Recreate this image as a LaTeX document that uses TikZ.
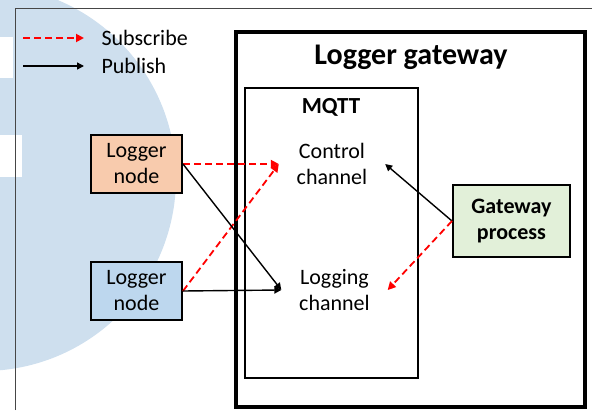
\documentclass[tikz,border=0pt]{standalone}
\usepackage{fontspec}
\setmainfont{Carlito}
\usepackage{xcolor}
\usetikzlibrary{shapes, arrows.meta, positioning}
\definecolor{nodeorange}{RGB}{248,203,173}
\definecolor{nodeblue}{RGB}{189,215,238}
\definecolor{nodegreen}{RGB}{226,240,217}
\definecolor{markblue}{RGB}{206,223,238}
\definecolor{framegray}{RGB}{70,70,70}

\begin{document}
\begin{tikzpicture}[
                x=1pt, y=-1pt,
                font=\fontsize{22}{26}\selectfont,
                box/.style={rectangle, draw=black, line width=2pt, minimum width=91pt, minimum height=58pt, align=center, inner sep=0pt},
                chan/.style={rectangle, align=center, minimum width=106pt, inner sep=0pt},
                pub/.style={-{Triangle[length=7pt,width=7pt]}, line width=1.4pt},
                sub/.style={-{Triangle[length=8pt,width=8pt]}, red, line width=1.8pt, dash pattern=on 7pt off 4pt}
            ]
                \useasboundingbox (0,0) rectangle (592,410);
                \begin{scope}
                    \clip (0,0) rectangle (592,410);
                    \fill[markblue] (-17,178) circle[radius=193pt];
                \end{scope}
                \fill[white] (0,37) rectangle (13,78);
                \fill[white] (0,135) rectangle (22,177);
                \draw[framegray, line width=1pt] (15,410) -- (15,8) -- (592,8);

                \draw[line width=4pt] (236,32) rectangle (585,407);
                \draw[line width=1.5pt] (245,88) rectangle (418,378);
                \node[font=\fontsize{30}{34}\selectfont\bfseries] (title) at (411,57) {Logger gateway};
                \node[font=\fontsize{23}{26}\selectfont\bfseries] (mqtt) at (331,107) {MQTT};

                \node[box, fill=nodeorange] (n1) at (136.5,164) {Logger\\node};
                \node[box, fill=nodeblue, below=67pt of n1] (n2) {Logger\\node};
                \node[box, fill=nodegreen, minimum width=117pt, minimum height=72pt, font=\fontsize{22}{26}\selectfont\bfseries] (gp) at (511.5,221) {Gateway\\process};
                \node[chan] (ctrl) at (332,164) {Control\\channel};
                \node[chan] (logch) at (334.5,290) {Logging\\channel};

                \draw[sub] (n1.east) -- (ctrl.west);
                \draw[sub] (n2.east) -- (ctrl.west);
                \draw[pub] (n1.east) -- (logch.west);
                \draw[pub] (n2.east) -- (logch.west);
                \draw[pub] (gp.west) -- (ctrl.east);
                \draw[sub] (gp.west) -- (logch.east);

                \coordinate (s0) at (23,38);
                \coordinate (s1) at (84,38);
                \coordinate (p0) at (23,66);
                \coordinate (p1) at (84,66);
                \node[anchor=west, right=14pt of s1] (subtxt) {Subscribe};
                \node[anchor=west, right=14pt of p1] (pubtxt) {Publish};
                \draw[sub] (s0) -- (s1);
                \draw[pub] (p0) -- (p1);
            \end{tikzpicture}
\end{document}
